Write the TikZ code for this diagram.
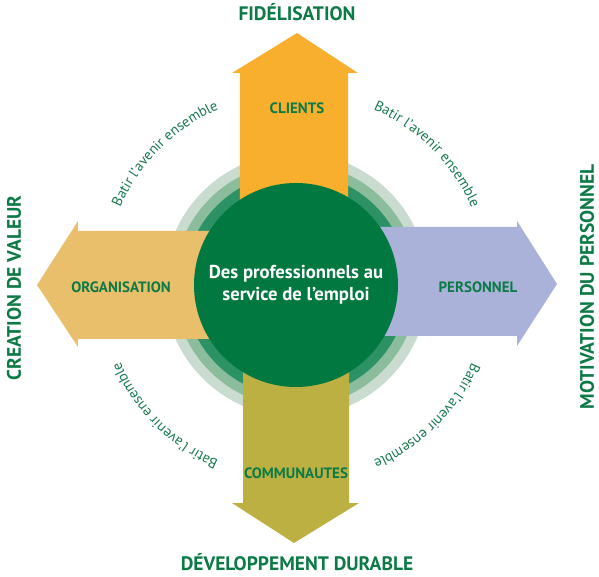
\documentclass[tikz,border=0pt]{standalone}
\usepackage{fontspec}
\setmainfont{PT Sans}
\usetikzlibrary{decorations.text}

\definecolor{textgreen}{HTML}{0C7A45}
\definecolor{arcgreen}{HTML}{1A7A4E}
\definecolor{circlegreen}{HTML}{00783F}
\definecolor{ringA}{HTML}{C9DCCF}
\definecolor{ringB}{HTML}{8BBD9C}
\definecolor{ringC}{HTML}{2C9266}
\definecolor{clientscol}{HTML}{F8AF2D}
\definecolor{organisationcol}{HTML}{E9BF6C}
\definecolor{personnelcol}{HTML}{AAB2DA}
\definecolor{communautescol}{HTML}{BDB043}

\newcommand{\arcfont}{\fontsize{14.5}{16}\selectfont}

\tikzset{
  label text/.style={font=\bfseries\fontsize{15}{17}\selectfont, text=textgreen},
  title text/.style={font=\bfseries\fontsize{19.5}{22}\selectfont, text=textgreen, inner sep=0},
  arc text/.style={decorate, decoration={text along path, text align=center,
      text color=arcgreen, text={|\arcfont|Batir l’avenir ensemble}}}
}

\begin{document}
\begin{tikzpicture}[x=1pt,y=1pt]

   \useasboundingbox (-296,-292) rectangle (303,285);

   \fill [ringA] (0,0) circle (132);
   \fill [ringB] (0,0) circle (122);
   \fill [ringC] (0,0) circle (112);

   \fill [clientscol] (-56,0) -- (-56,212) -- (-64,212) -- (1,252) -- (62,212) -- (52,212) -- (52,0) -- cycle;
   \fill [communautescol] (-53,0) -- (-53,-218) -- (-64,-218) -- (-2,-258) -- (63,-218) -- (53,-218) -- (53,0) -- cycle;
   \fill [organisationcol] (0,54) -- (-218,54) -- (-218,64) -- (-259,0) -- (-218,-62) -- (-218,-54) -- (0,-54) -- cycle;
   \fill [personnelcol] (0,58) -- (221,58) -- (221,64) -- (261,1) -- (221,-61) -- (221,-51) -- (0,-51) -- cycle;

   \node (centre) at (0,0) [circle, fill=circlegreen, minimum size=204, inner sep=0, text=white, align=center,
      font=\bfseries\fontsize{18.7}{22}\selectfont] {Des professionnels au\\service de l’emploi};

   \node (clients) at (1,177) [label text] {CLIENTS};
   \node (organisation) at (-175,-2) [label text] {ORGANISATION};
   \node (personnel) at (182,-2) [label text] {PERSONNEL};
   \node (communautes) at (0,-188) [label text] {COMMUNAUTES};

   \node (fidelisation) at (1,273) [title text] {FIDÉLISATION};
   \node (developpement) at (1,-277) [title text] {DÉVELOPPEMENT DURABLE};
   \node (creation) at (-282,-3) [title text, rotate=90] {CREATION DE VALEUR};
   \node (motivation) at (291,-2) [title text, rotate=90] {MOTIVATION DU PERSONNEL};

   \path [arc text] (165:192) arc [start angle=165, end angle=105, radius=192];
   \path [arc text] (75:192) arc [start angle=75, end angle=15, radius=192];
   \path [arc text] (345:192) arc [start angle=345, end angle=285, radius=192];
   \path [arc text] (255:192) arc [start angle=255, end angle=195, radius=192];

\end{tikzpicture}
\end{document}
